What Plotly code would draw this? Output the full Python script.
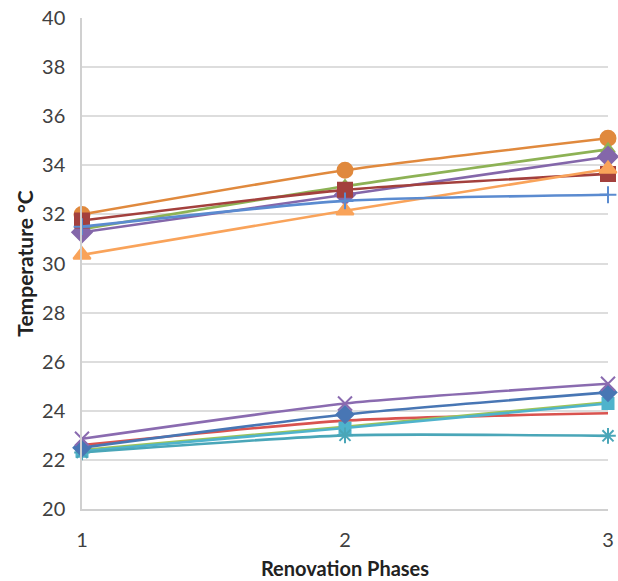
import plotly.graph_objects as go

phases = [1, 2, 3]

# Upper cluster
orange_circle = [32.0, 33.8, 35.1]
green_triangle = [31.4, 33.15, 34.65]
purple_diamond = [31.27, 32.8, 34.35]
darkred_square = [31.75, 33.0, 33.65]
lightorange_triangle = [30.35, 32.15, 33.85]
blue_plus = [31.5, 32.55, 32.8]

# Lower cluster
purple_x = [22.86, 24.3, 25.1]
blue_diamond = [22.5, 23.85, 24.75]
red_line = [22.6, 23.6, 23.9]
green_line = [22.4, 23.35, 24.35]
cyan_square = [22.35, 23.3, 24.3]
teal_star = [22.3, 23.0, 22.98]

series = [
    ("Orange circle", orange_circle, "#E0893D", "circle", 15),
    ("Green triangle", green_triangle, "#8DB255", "triangle-up", 12),
    ("Purple diamond", purple_diamond, "#8467AA", "diamond", 15),
    ("Dark red square", darkred_square, "#A3403D", "square", 14),
    ("Light orange triangle", lightorange_triangle, "#F9A35A", "triangle-up", 15),
    ("Blue plus", blue_plus, "#5B8BD0", "cross-thin", 12),
    ("Red", red_line, "#D9534F", None, 0),
    ("Green", green_line, "#9CC35A", None, 0),
    ("Cyan square", cyan_square, "#4FB3CC", "square", 11),
    ("Teal star", teal_star, "#4AA6B8", "asterisk-open", 13),
    ("Blue diamond", blue_diamond, "#4876B4", "diamond", 13),
    ("Purple x", purple_x, "#8A6BB0", "x-thin-open", 14),
]

fig = go.Figure()
for name, vals, color, sym, size in series:
    if sym is None:
        fig.add_trace(go.Scatter(
            x=phases, y=vals, name=name, mode="lines",
            line=dict(color=color, width=2.6, shape="spline", smoothing=0.6),
        ))
        continue
    marker = dict(symbol=sym, size=size, color=color,
                  line=dict(color=color, width=2))
    fig.add_trace(go.Scatter(
        x=phases, y=vals, name=name, mode="lines+markers",
        line=dict(color=color, width=2.6, shape="spline", smoothing=0.6),
        marker=marker, cliponaxis=False,
    ))

fig.update_layout(
    width=618, height=581,
    margin=dict(l=82, r=10, t=18, b=72),
    paper_bgcolor="white", plot_bgcolor="white",
    showlegend=False,
    font=dict(family="Lato, Liberation Sans, sans-serif", color="#404040", size=20),
)
fig.update_xaxes(
    range=[1, 3], tickvals=[1, 2, 3], ticktext=["1", "2", "3"],
    showgrid=False, zeroline=False, automargin=False,
    showline=True, linecolor="#D0D0D0", linewidth=1.5,
    ticks="", ticklabelstandoff=12, ticklabeloverflow="allow",
    title=dict(text="<b>Renovation Phases</b>", font=dict(size=20, color="#222222"), standoff=12),
)
fig.update_yaxes(
    range=[20, 40], tickvals=list(range(20, 41, 2)),
    showgrid=True, gridcolor="#DDDDDD", gridwidth=1.5, zeroline=False, automargin=False,
    showline=True, linecolor="#D0D0D0", linewidth=1.5,
    ticks="", ticklabelstandoff=11, ticklabeloverflow="allow",
    title=dict(text="<b>Temperature °C</b>", font=dict(size=21, color="#222222"), standoff=3),
)

fig.write_html("out.html", config={"displayModeBar": False},
               post_script="document.body.style.margin='0';document.body.style.overflow='hidden';")
